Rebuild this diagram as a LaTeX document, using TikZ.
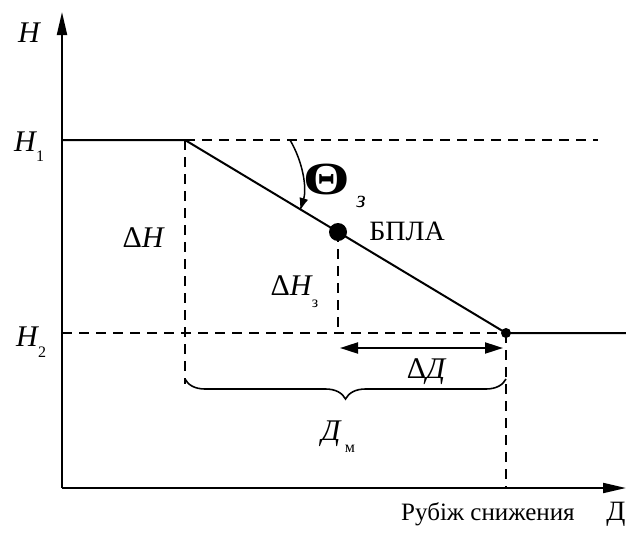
\documentclass[tikz,border=0pt]{standalone}
\usepackage{fontspec}
\setmainfont{Liberation Serif}
\usetikzlibrary{arrows.meta,decorations.pathreplacing}
\tikzset{
  solidln/.style={line width=2pt},
  dashln/.style={line width=1.5pt,dash pattern=on 10pt off 7pt},
  lbl/.style={inner sep=0pt,font=\fontsize{30}{33}\selectfont\itshape},
  sublbl/.style={inner sep=0pt,font=\fontsize{16}{18}\selectfont},
  tip/.style={-{Triangle[length=23pt,width=10pt]}},
}
\begin{document}
\begin{tikzpicture}[x=1pt,y=-1pt]
\useasboundingbox (0,0) rectangle (626,533);
% axes
\coordinate (O) at (62,488);
\coordinate (ytop) at (62,12);
\coordinate (xend) at (626,488);
\draw[solidln,tip] (O) -- (ytop);
\draw[solidln,tip] (O) -- (xend);
% levels
\coordinate (H1a) at (62,140);
\coordinate (A) at (185,140);
\coordinate (H1b) at (598,140);
\coordinate (B) at (506,333);
\coordinate (H2a) at (62,333);
\coordinate (H2b) at (626,333);
\draw[solidln] (H1a) -- (A) -- (B) -- (H2b);
\draw[dashln] (A) -- (H1b);
\draw[dashln] (H2a) -- (B);
% UAV
\node[circle,fill,inner sep=0pt,minimum size=18pt] (uav) at (338,232) {};
\node[circle,fill,inner sep=0pt,minimum size=10pt] (endpt) at (B) {};
\coordinate (uavfoot) at (338,333);
\draw[dashln] (uav.center) -- (uavfoot);
\coordinate (Afoot) at (185,384);
\draw[dashln] (A) -- (Afoot);
\coordinate (Bfoot) at (506,488);
\draw[dashln] (B) -- (Bfoot);
% delta D arrow
\coordinate (dd1) at (340,348);
\coordinate (dd2) at (503,348);
\draw[line width=2pt,{Triangle[length=18pt,width=11pt]}-{Triangle[length=18pt,width=11pt]}] (dd1) -- (dd2);
% brace
\coordinate (br1) at (185,379);
\coordinate (br2) at (506,379);
\draw[line width=1.6pt,decorate,decoration={brace,amplitude=20pt}] (br2) -- (br1);
% angle arrow
\coordinate (th1) at (290,140);
\coordinate (th2) at (300,211);
\draw[line width=1.5pt,-{Latex[length=13pt,width=9pt]}] (th1) .. controls (303,162) and (307,188) .. (th2);
% labels
\node[lbl] (lH) at (29,33) {H};
\node[lbl] (lH1) at (25,142) {H};
\node[sublbl] (lH1s) at (40,156) {1};
\node[lbl] (lH2) at (27,337) {H};
\node[sublbl] (lH2s) at (42,352) {2};
\node[lbl] (ldH) at (143,238) {\upshape Δ\itshape H};
\node[lbl] (ldHz) at (291,286) {\upshape Δ\itshape H};
\node[sublbl] (ldHzs) at (315,304) {з};
\node[inner sep=0pt,font=\fontsize{46}{50}\selectfont\bfseries,xscale=1.3] (th) at (327,179) {Θ};
\node[inner sep=0pt,font=\fontsize{24}{26}\selectfont\itshape] (thz) at (361,202) {з};
\node[inner sep=0pt,font=\fontsize{28}{32}\selectfont] (bpla) at (407,231) {БПЛА};
\node[lbl] (ldD) at (426,372) {\upshape Δ\itshape Д};
\node[lbl] (lDm) at (331,434) {Д};
\node[sublbl] (lDms) at (350,449) {м};
\node[inner sep=0pt,font=\fontsize{25}{28}\selectfont,anchor=base west] (rub) at (401,520) {Рубіж снижения};
\node[inner sep=0pt,font=\fontsize{28}{30}\selectfont,anchor=base] (lD) at (616,520) {Д};
\end{tikzpicture}
\end{document}
